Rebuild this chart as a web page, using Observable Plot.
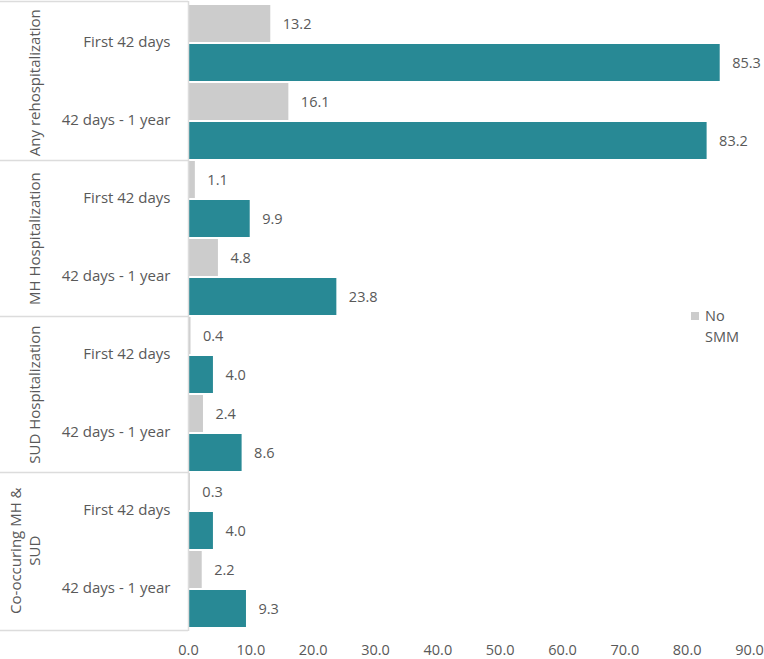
<!DOCTYPE html>
<html>
<head>
<meta charset="utf-8">
<script src="https://cdn.jsdelivr.net/npm/d3@7"></script>
<script src="https://cdn.jsdelivr.net/npm/@observablehq/plot@0.6"></script>
<style>
  html, body { margin: 0; padding: 0; background: #fff; }
  #wrap { position: relative; width: 764px; height: 659px; }
  #legend { position: absolute; left: 691px; top: 305px; font: 14.5px "Open Sans", sans-serif; color: #595959; line-height: 21px; }
  #legend .sw { display: inline-block; width: 8px; height: 8px; background: #cccccc; margin-right: 6px; vertical-align: 1px; }
  #legend .l2 { padding-left: 14px; }
</style>
</head>
<body>
<div id="wrap"><div id="legend"><div><span class="sw"></span>No</div><div class="l2">SMM</div></div></div>
<script>
const groups = ["Any rehospitalization", "MH Hospitalization", "SUD Hospitalization", "Co-occuring MH &\nSUD"];
const periods = ["First 42 days", "42 days - 1 year"];
const series = ["No SMM", "SMM"];
const noSMM = [13.2, 16.1, 1.1, 4.8, 0.4, 2.4, 0.3, 2.2];
const smm = [85.3, 83.2, 9.9, 23.8, 4.0, 8.6, 4.0, 9.3];
const xTicks = [0, 10, 20, 30, 40, 50, 60, 70, 80, 90];

const W = 764, H = 659, MT = 1, MB = 28, ML = 188, MR = 15;
const step = (H - MT - MB) / 16;

const bars = [];
const subcats = [];
groups.forEach((g, gi) => {
  periods.forEach((p, pi) => {
    const idx = gi * 2 + pi;
    subcats.push({group: g, period: p, key: `${gi}|${pi}|0`});
    [noSMM[idx], smm[idx]].forEach((v, si) => {
      bars.push({group: g, period: p, series: series[si], value: v, key: `${gi}|${pi}|${si}`});
    });
  });
});
const yDomain = bars.map(d => d.key);
const groupRows = groups.map((g, gi) => ({group: g, key: `${gi}|0|1`, multi: g.includes("\n")}));

function separators(index, scales, values, dims) {
  const y = scales.y;
  const bw = typeof y.bandwidth === "function" ? y.bandwidth() : y.bandwidth;
  const ys = [dims.marginTop + 0.5];
  for (let gi = 0; gi < groups.length - 1; gi++) {
    const a = y(`${gi}|1|1`) + bw, b = y(`${gi + 1}|0|0`);
    ys.push(Math.round((a + b) / 2) + 0.5);
  }
  ys.push(dims.height - dims.marginBottom - 0.5);
  const g = d3.create("svg:g").attr("stroke", "#dcdcdc").attr("stroke-width", 1.5);
  for (const v of ys) g.append("line").attr("x1", 0).attr("x2", dims.marginLeft).attr("y1", v).attr("y2", v);
  return g.node();
}

const plot = Plot.plot({
  width: W, height: H,
  marginTop: MT, marginBottom: MB, marginLeft: ML, marginRight: MR,
  style: {fontFamily: "'Open Sans', sans-serif", fontSize: "14.5px", color: "#595959", background: "#fff"},
  x: {domain: [0, 90], ticks: xTicks, tickFormat: d3.format(".1f"), tickSize: 0, tickPadding: 13, label: null},
  y: {domain: yDomain, axis: null, paddingInner: 0.045, paddingOuter: 0.01},
  color: {domain: series, range: ["#cccccc", "#288995"]},
  marks: [
    Plot.barX(bars, {x: "value", y: "key", fill: "series"}),
    Plot.text(bars, {x: "value", y: "key", text: d => d3.format(".1f")(d.value), textAnchor: "start", dx: 12, fill: "#595959"}),
    Plot.text(subcats, {y: "key", text: "period", frameAnchor: "left", dx: -18, dy: step / 2 - 1.5, textAnchor: "end", fill: "#595959", fontSize: 15}),
    Plot.text(groupRows.filter(d => !d.multi), {y: "key", text: "group", frameAnchor: "left", textAnchor: "middle", dx: -153, dy: step / 2, rotate: -90, fill: "#595959", fontSize: 15}),
    Plot.text(groupRows.filter(d => d.multi), {y: "key", text: "group", frameAnchor: "left", textAnchor: "middle", dx: -164, dy: step / 2, rotate: -90, lineHeight: 1.25, fill: "#595959", fontSize: 15}),
    Plot.ruleX([0], {stroke: "#dcdcdc", strokeWidth: 1.5}),
    separators
  ]
});
document.getElementById("wrap").prepend(plot);
</script>
</body>
</html>
